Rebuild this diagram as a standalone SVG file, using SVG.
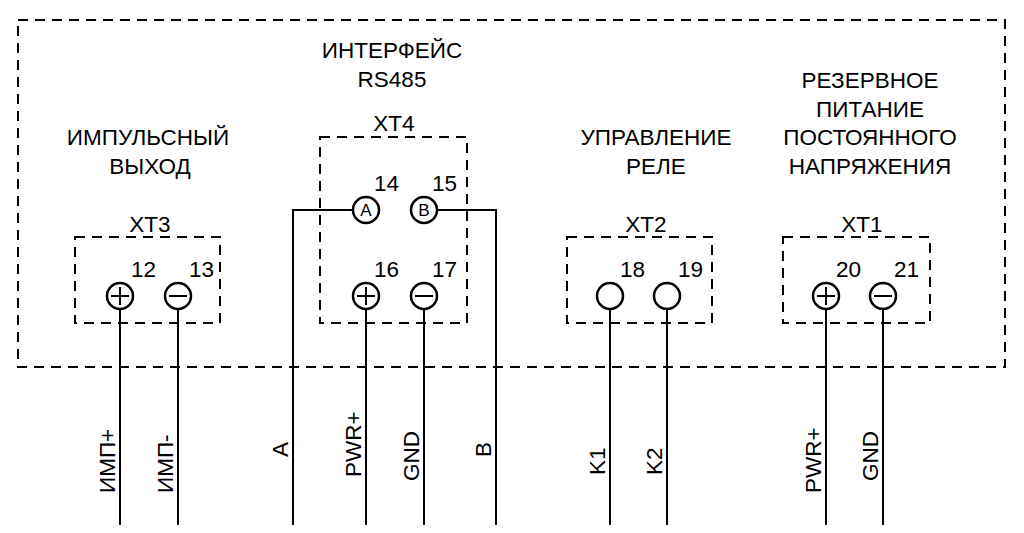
<svg xmlns="http://www.w3.org/2000/svg" width="1024" height="533" viewBox="0 0 1024 533">
<style>
.d{fill:none;stroke:#000;stroke-width:2;stroke-dasharray:10,7}
.w{fill:none;stroke:#000;stroke-width:2}
.c{fill:#fff;stroke:#000;stroke-width:2.5}
text{font-family:"Liberation Sans",Arial,sans-serif;font-size:22.5px;fill:#000}
.m{text-anchor:middle}
.s{font-size:17px;text-anchor:middle}
</style>
<rect width="1024" height="533" fill="#fff"/>
<rect class="d" x="18" y="20" width="987" height="347"/>
<g id="connectors">
<path class="w" d="M120 296V525M178 296V525M366 296V525M424 296V525M610 296V525M667 296V525M826 296V525M883 296V525"/>
<path class="w" d="M366 210H293V525M424 210H496V525"/>
</g>
<g id="labels">
<text class="m" x="148" y="145">ИМПУЛЬСНЫЙ</text><text class="m" x="150" y="174">ВЫХОД</text>
<text class="m" x="392" y="58">ИНТЕРФЕЙС</text><text class="m" x="392" y="87">RS485</text>
<text class="m" x="656" y="145">УПРАВЛЕНИЕ</text><text class="m" x="656" y="174">РЕЛЕ</text>
<text class="m" x="870" y="88">РЕЗЕРВНОЕ</text><text class="m" x="870" y="117">ПИТАНИЕ</text><text class="m" x="870" y="145">ПОСТОЯННОГО</text><text class="m" x="870" y="174">НАПРЯЖЕНИЯ</text>
</g>
<g id="XT3">
<rect class="d" x="75" y="237" width="145" height="86"/>
<text class="m" x="150" y="232">XT3</text>
<text x="131" y="277">12</text><text x="189" y="277">13</text>
<circle class="c" cx="120" cy="296" r="13"/><path class="w" d="M111 296h18M120 287v18" stroke-width="2.5"/>
<circle class="c" cx="178" cy="296" r="13"/><path class="w" d="M169 296h18" stroke-width="2.5"/>
</g>
<g id="XT4">
<rect class="d" x="320" y="137" width="147" height="186"/>
<text class="m" x="394" y="131">XT4</text>
<text x="374" y="191">14</text><text x="432" y="191">15</text>
<text x="374" y="277">16</text><text x="432" y="277">17</text>
<circle class="c" cx="366" cy="210" r="13"/><text class="s" x="366" y="216">A</text>
<circle class="c" cx="424" cy="210" r="13"/><text class="s" x="424" y="216">B</text>
<circle class="c" cx="366" cy="296" r="13"/><path class="w" d="M357 296h18M366 287v18" stroke-width="2.5"/>
<circle class="c" cx="424" cy="296" r="13"/><path class="w" d="M415 296h18" stroke-width="2.5"/>
</g>
<g id="XT2">
<rect class="d" x="567" y="237" width="145" height="86"/>
<text class="m" x="646" y="232">XT2</text>
<text x="620" y="277">18</text><text x="678" y="277">19</text>
<circle class="c" cx="610" cy="296" r="13"/><circle class="c" cx="667" cy="296" r="13"/>
</g>
<g id="XT1">
<rect class="d" x="783" y="237" width="147" height="86"/>
<text class="m" x="862" y="232">XT1</text>
<text x="836" y="277">20</text><text x="894" y="277">21</text>
<circle class="c" cx="826" cy="296" r="13"/><path class="w" d="M817 296h18M826 287v18" stroke-width="2.5"/>
<circle class="c" cx="883" cy="296" r="13"/><path class="w" d="M874 296h18" stroke-width="2.5"/>
</g>
<g id="wire-labels">
<text transform="translate(115,493) rotate(-90)">ИМП+</text>
<text transform="translate(173,493) rotate(-90)">ИМП-</text>
<text transform="translate(288,457) rotate(-90)">A</text>
<text transform="translate(361,477) rotate(-90)">PWR+</text>
<text transform="translate(419,481) rotate(-90)">GND</text>
<text transform="translate(491,457) rotate(-90)">B</text>
<text transform="translate(605,475) rotate(-90)">K1</text>
<text transform="translate(662,475) rotate(-90)">K2</text>
<text transform="translate(821,493) rotate(-90)">PWR+</text>
<text transform="translate(878,481) rotate(-90)">GND</text>
</g>
</svg>
